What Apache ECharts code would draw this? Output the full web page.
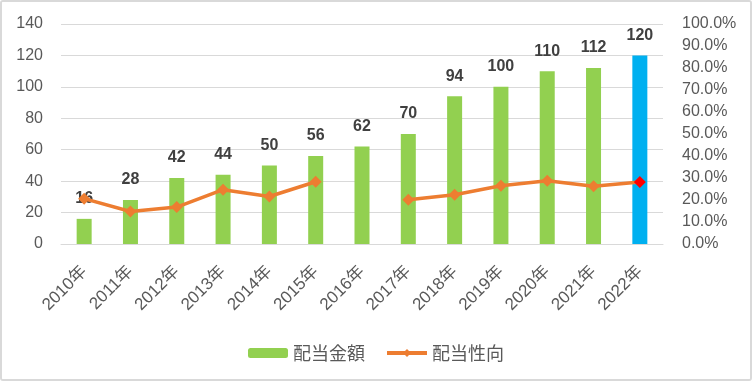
<!DOCTYPE html>
<html><head><meta charset="utf-8">
<script src="https://cdn.jsdelivr.net/npm/echarts@6/dist/echarts.min.js"></script>
<style>
html,body{margin:0;padding:0;background:#fff;}
#wrap{width:752px;height:381px;box-sizing:border-box;border:2px solid #d9d9d9;border-radius:3px;position:relative;overflow:hidden;}
#chart{position:absolute;left:-2px;top:-2px;width:752px;height:381px;}
</style></head>
<body><div id="wrap"><div id="chart"></div></div>
<script>
const categories = ['2010年','2011年','2012年','2013年','2014年','2015年','2016年','2017年','2018年','2019年','2020年','2021年','2022年'];
const dividendAmount = [16,28,42,44,50,56,62,70,94,100,110,112,120];
const payoutRatio = [20.6,14.8,16.8,24.7,21.6,28.3,null,20.1,22.4,26.5,28.8,26.2,28.2];
const leftTicks = {min:0,max:140,interval:20};
const rightTicks = {min:0,max:100,interval:10};

const FONT = 'Liberation Sans, "Noto Sans CJK JP", sans-serif';
const lastIdx = categories.length - 1;
const barData = dividendAmount.map((v,i)=> i===lastIdx ? {value:v,itemStyle:{color:'#00b0f0'}} : v);
const lineData = payoutRatio.map((v,i)=> i===lastIdx ? {value:v,itemStyle:{color:'#ff0000'}} : v);

const chart = echarts.init(document.getElementById('chart'), null, {renderer:'canvas'});
chart.setOption({
  backgroundColor:'#fff',
  animation:false,
  textStyle:{fontFamily:FONT},
  grid:{left:61,right:89,top:24,bottom:137,containLabel:false},
  legend:{
    top:339, left:'center',
    itemWidth:40, itemHeight:10, itemGap:20,
    textStyle:{fontSize:18,color:'#595959',fontFamily:'"Noto Sans CJK JP", sans-serif'},
    data:[{name:'配当金額'},{name:'配当性向',lineStyle:{width:4,color:'#ed7d31'},itemStyle:{color:'#ed7d31'}}]
  },
  xAxis:{
    type:'category', data:categories,
    axisLine:{lineStyle:{color:'#d9d9d9',width:1}},
    axisTick:{show:false},
    axisLabel:{rotate:45,fontSize:17,color:'#595959',margin:25,interval:0,fontFamily:FONT}
  },
  yAxis:[
    {type:'value',min:leftTicks.min,max:leftTicks.max,interval:leftTicks.interval,
     axisLine:{show:false},axisTick:{show:false},
     splitLine:{lineStyle:{color:'#d9d9d9',width:1}},
     axisLabel:{fontSize:16,color:'#595959',margin:18,fontFamily:FONT}},
    {type:'value',min:rightTicks.min,max:rightTicks.max,interval:rightTicks.interval,
     axisLine:{show:false},axisTick:{show:false},splitLine:{show:false},
     axisLabel:{fontSize:16,color:'#595959',margin:19,align:'left',fontFamily:FONT,
       formatter:v=>v.toFixed(1)+'%'}}
  ],
  series:[
    {name:'配当金額',type:'bar',data:barData,barWidth:15,yAxisIndex:0,
     itemStyle:{color:'#92d050'},
     label:{show:true,position:'top',distance:12,fontSize:16,fontWeight:'bold',color:'#404040',fontFamily:FONT}},
    {name:'配当性向',type:'line',data:lineData,yAxisIndex:1,
     symbol:'diamond',symbolSize:12,showSymbol:true,showAllSymbol:true,connectNulls:false,
     lineStyle:{color:'#ed7d31',width:3.5},
     itemStyle:{color:'#ed7d31',opacity:1},z:5}
  ]
});
</script></body></html>
